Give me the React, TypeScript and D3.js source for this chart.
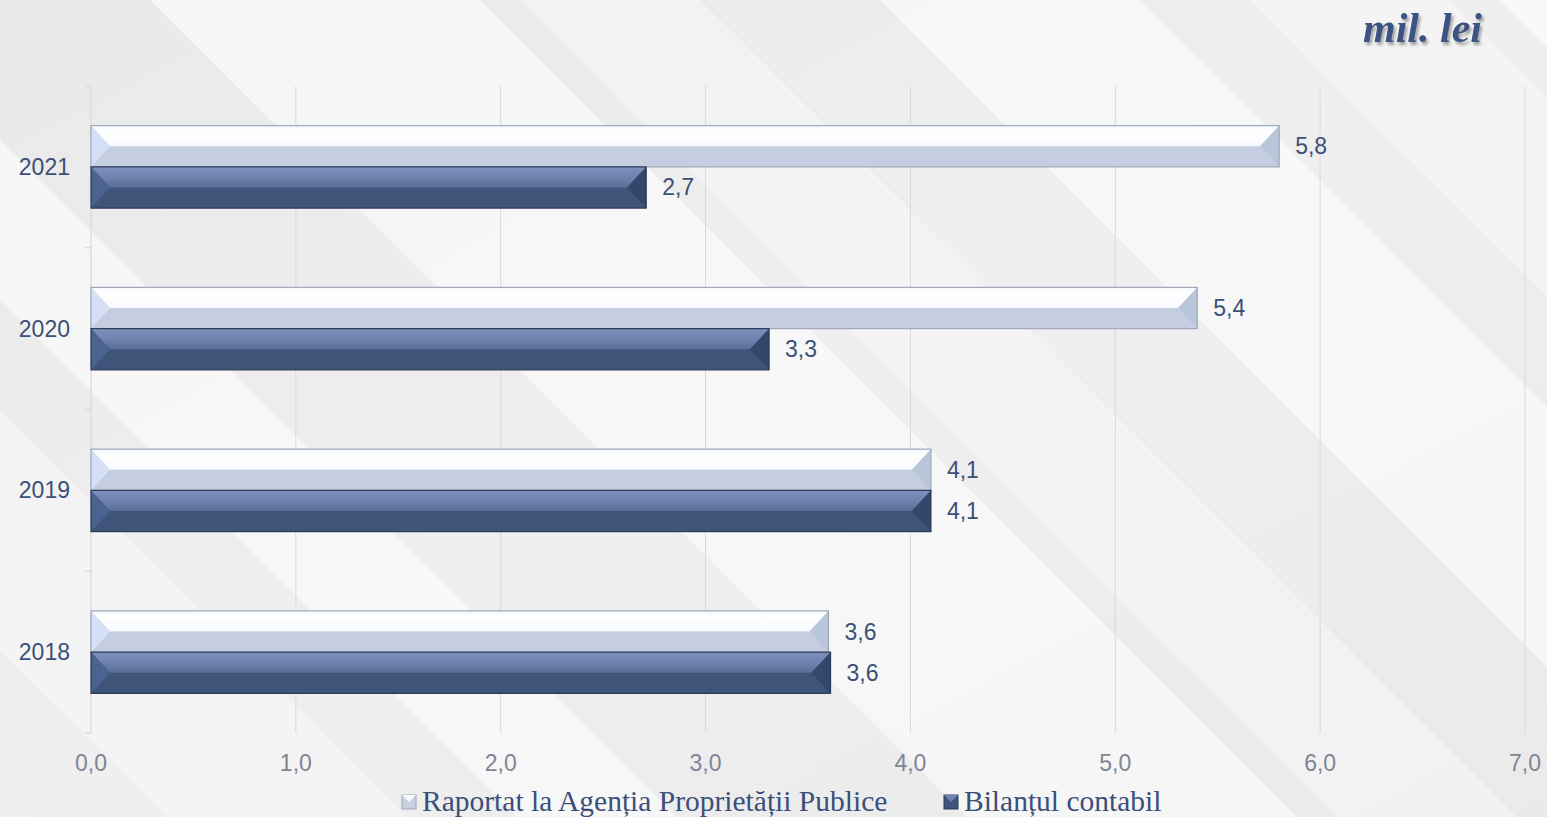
import React from "react";
import * as d3 from "d3";

const years = ["2021", "2020", "2019", "2018"];
const seriesNames = ["Raportat la Agenția Proprietății Publice", "Bilanțul contabil"];
const raportat = [5.8, 5.4, 4.1, 3.6];
const bilant = [2.71, 3.31, 4.1, 3.61];
const xTicks = [0, 1, 2, 3, 4, 5, 6, 7];

const W = 1547, H = 817;
const M = { left: 91, right: 22, top: 86, bottom: 84 };

const x = d3.scaleLinear().domain([0, 7]).range([M.left, W - M.right]);
const y = d3.scaleBand().domain(years).range([M.top, H - M.bottom]).paddingInner(0.49).paddingOuter(0.245);
const fmt = (v: number) => v.toFixed(1).replace(".", ",");

const styles = [
  { top: "url(#ltop)", bottom: "#c4cee0", left: "#d5e0f6", right: "#b9c5d9", stroke: "#9ea8b8" },
  { top: "url(#dtop)", bottom: "#3f5479", left: "#4c6290", right: "#34466a", stroke: "#2c3b58" },
];

function Bar({ x0, x1, y0, h, s }: { x0: number; x1: number; y0: number; h: number; s: any }) {
  const b = Math.min(19, (x1 - x0) / 2);
  const ym = y0 + h / 2;
  const y1 = y0 + h;
  return (
    <g>
      <rect x={x0} y={y0} width={x1 - x0} height={h} fill={s.bottom} />
      <polygon points={`${x0},${y0} ${x1},${y0} ${x1 - b},${ym} ${x0 + b},${ym}`} fill={s.top} />
      <polygon points={`${x0},${y0} ${x0 + b},${ym} ${x0},${y1}`} fill={s.left} />
      <polygon points={`${x1},${y0} ${x1 - b},${ym} ${x1},${y1}`} fill={s.right} />
      <rect x={x0} y={y0} width={x1 - x0} height={h} fill="none" stroke={s.stroke} strokeWidth={1.2} />
    </g>
  );
}

const stripes = [
  [150, 0, 330], [520, 0, 180], [880, 0, 260], [1250, 0, 200], [-300, 0, 160], [-650, 0, 240], [1500, 0, 150],
];

const SANS = "Liberation Sans, Arial, sans-serif";
const SERIF = "Liberation Serif, Times New Roman, serif";

export default function App() {
  const bh = y.bandwidth() / 2;
  return (
    <div style={{ position: "fixed", left: 0, top: 0 }}>
      <svg width={W} height={H} style={{ display: "block" }}>
        <defs>
          <linearGradient id="bg" x1="0" y1="0" x2="1" y2="1">
            <stop offset="0" stopColor="#e9e9e9" />
            <stop offset="0.5" stopColor="#efefef" />
            <stop offset="1" stopColor="#eaeaea" />
          </linearGradient>
          <linearGradient id="ltop" x1="0" y1="0" x2="0" y2="1">
            <stop offset="0" stopColor="#f4f8fe" />
            <stop offset="0.3" stopColor="#ffffff" />
            <stop offset="1" stopColor="#f6f9fe" />
          </linearGradient>
          <linearGradient id="dtop" x1="0" y1="0" x2="0" y2="1">
            <stop offset="0" stopColor="#7d91bc" />
            <stop offset="0.5" stopColor="#6e83ad" />
            <stop offset="1" stopColor="#596e97" />
          </linearGradient>
          <filter id="sh" x="-10%" y="-20%" width="130%" height="160%">
            <feDropShadow dx="2" dy="3" stdDeviation="1.5" floodColor="#000" floodOpacity="0.35" />
          </filter>
        </defs>
        <rect width={W} height={H} fill="url(#bg)" />
        {stripes.map(([sx, , w], i) => (
          <polygon key={i} points={`${sx},0 ${sx + w},0 ${sx + w + H},${H} ${sx + H},${H}`} fill="#ffffff" opacity={i % 2 ? 0.35 : 0.55} />
        ))}
        {xTicks.slice(1).map((t) => (
          <line key={t} x1={x(t)} x2={x(t)} y1={M.top} y2={H - M.bottom} stroke="#d9d9d9" strokeWidth={1} />
        ))}
        <line x1={x(0)} x2={x(0)} y1={M.top} y2={H - M.bottom} stroke="#d9d9d9" strokeWidth={1.2} />
        {[0, 1, 2, 3, 4].map((i) => {
          const yy = M.top + (i * (H - M.bottom - M.top)) / 4;
          return <line key={i} x1={x(0) - 6} x2={x(0)} y1={yy} y2={yy} stroke="#d9d9d9" strokeWidth={1.2} />;
        })}
        {xTicks.map((t) => (
          <text key={t} x={x(t)} y={771} textAnchor="middle" fontFamily={SANS} fontSize={23} fill="#7f8595">
            {fmt(t)}
          </text>
        ))}
        {years.map((yr, i) => {
          const y0 = y(yr)!;
          return (
            <g key={yr}>
              <text x={70} y={y0 + bh + 8} textAnchor="end" fontFamily={SANS} fontSize={23} fill="#3b4f78">
                {yr}
              </text>
              <Bar x0={x(0)} x1={x(raportat[i])} y0={y0} h={bh} s={styles[0]} />
              <Bar x0={x(0)} x1={x(bilant[i])} y0={y0 + bh} h={bh} s={styles[1]} />
              <text x={x(raportat[i]) + 16} y={y0 + bh / 2 + 8} fontFamily={SANS} fontSize={23} fill="#3b4f78">
                {fmt(raportat[i])}
              </text>
              <text x={x(bilant[i]) + 16} y={y0 + bh * 1.5 + 8} fontFamily={SANS} fontSize={23} fill="#3b4f78">
                {fmt(bilant[i])}
              </text>
            </g>
          );
        })}
        <text x={1482} y={42} textAnchor="end" fontFamily={SERIF} fontStyle="italic" fontWeight="bold" fontSize={42} fill="#3c5282" filter="url(#sh)">
          mil. lei
        </text>
        <g fontFamily={SERIF} fontSize={29.5} fill="#3b4f78">
          <rect x={402} y={795} width={14} height={14} fill="#c8d1e2" stroke="#9ea8b8" />
          <polygon points="402,795 416,795 409,802" fill="#f6f9fe" />
          <text x={422} y={811}>{seriesNames[0]}</text>
          <rect x={944} y={795} width={14} height={14} fill="#3f5479" stroke="#2c3b58" />
          <polygon points="944,795 958,795 951,802" fill="#6e83ad" />
          <text x={964} y={811}>{seriesNames[1]}</text>
        </g>
      </svg>
    </div>
  );
}
